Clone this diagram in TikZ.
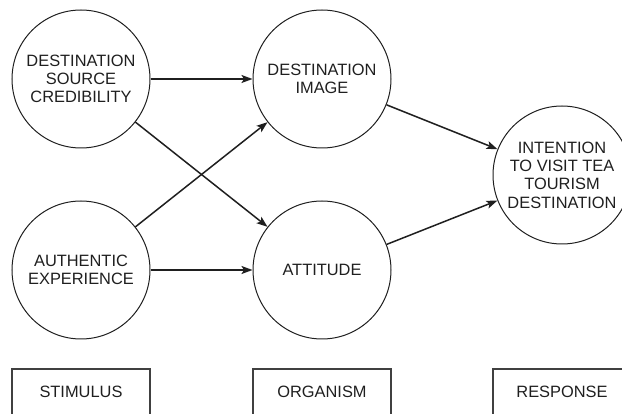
\documentclass[tikz,border=0pt]{standalone}
\usepackage{fontspec}
\setmainfont{Liberation Sans}
\usetikzlibrary{arrows.meta}

\begin{document}
\begin{tikzpicture}[
  x=1pt,
  y=-1pt,
  every node/.style={font=\fontsize{16.4}{18.3}\selectfont, text=black!88},
  construct/.style={circle, draw=black!88, line width=1pt, minimum size=138pt, inner sep=0pt, align=center},
  stage/.style={rectangle, draw=black!75, line width=1.2pt, minimum width=138pt, minimum height=46pt, inner sep=0pt},
  path/.style={-{Stealth[length=11pt, width=8pt, inset=2.5pt]}, draw=black!88, line width=1.5pt}
]
  \useasboundingbox (0,0) rectangle (622,414);
  \clip (0,0) rectangle (622,414);

  % stimulus
  \node[construct] (credibility) at (81,79) {DESTINATION\\SOURCE\\CREDIBILITY};
  \node[construct] (authentic) at (81,270) {AUTHENTIC\\EXPERIENCE};

  % organism
  \node[construct] (image) at (322,79) {DESTINATION\\IMAGE};
  \node[construct] (attitude) at (322,270) {ATTITUDE};

  % response
  \node[construct] (intention) at (562,175) {INTENTION\\TO VISIT TEA\\TOURISM\\DESTINATION};

  \draw[path] (credibility) -- (image);
  \draw[path] (credibility) -- (attitude);
  \draw[path] (authentic) -- (image);
  \draw[path] (authentic) -- (attitude);
  \draw[path] (image) -- (intention);
  \draw[path] (attitude) -- (intention);

  \node[stage] (stimulus) at (81,392) {STIMULUS};
  \node[stage] (organism) at (322,392) {ORGANISM};
  \node[stage] (response) at (562,392) {RESPONSE};
\end{tikzpicture}
\end{document}
